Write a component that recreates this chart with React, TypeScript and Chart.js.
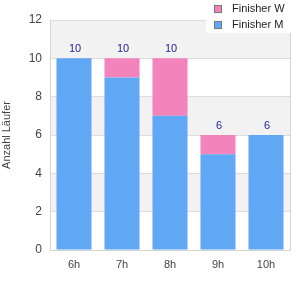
import React, { useEffect, useRef } from "react";
import { Chart, registerables } from "chart.js";

Chart.register(...registerables);

const categories = ["6h", "7h", "8h", "9h", "10h"];
const finisherM = [10, 9, 7, 5, 6];
const finisherW = [0, 1, 3, 1, 0];
const yTicks = [0, 2, 4, 6, 8, 10, 12];

const FONT = "'Liberation Sans', Arial, sans-serif";
const BLUE = "#60a8f4";
const PINK = "#f283bb";

const bandsPlugin = {
  id: "bands",
  beforeDraw(chart: any) {
    const { ctx, chartArea } = chart;
    const y = chart.scales.y;
    ctx.save();
    ctx.fillStyle = "#ffffff";
    ctx.fillRect(0, 0, chart.width, chart.height);
    ctx.fillStyle = "#f2f2f2";
    for (let i = yTicks.length - 1; i > 0; i -= 2) {
      const top = y.getPixelForValue(yTicks[i]);
      const bot = y.getPixelForValue(yTicks[i - 1]);
      ctx.fillRect(chartArea.left, top, chartArea.right - chartArea.left, bot - top);
    }
    ctx.restore();
  },
  afterDraw(chart: any) {
    const { ctx, chartArea } = chart;
    ctx.save();
    ctx.strokeStyle = "#d4d4d4";
    ctx.lineWidth = 1;
    ctx.beginPath();
    ctx.moveTo(Math.round(chartArea.right) + 0.5, chartArea.top);
    ctx.lineTo(Math.round(chartArea.right) + 0.5, chartArea.bottom);
    ctx.stroke();
    ctx.restore();
  },
};

const totalsPlugin = {
  id: "totals",
  afterDatasetsDraw(chart: any) {
    const { ctx } = chart;
    const x = chart.scales.x;
    const y = chart.scales.y;
    ctx.save();
    ctx.fillStyle = "#1e1e96";
    ctx.font = `11px ${FONT}`;
    ctx.textAlign = "center";
    ctx.textBaseline = "bottom";
    categories.forEach((_, i) => {
      const total = finisherM[i] + finisherW[i];
      const px = x.getPixelForValue(i);
      const py = y.getPixelForValue(total);
      ctx.fillText(String(total), px + 1, py - 4);
    });
    ctx.restore();
  },
};

const legendPlugin = {
  id: "customLegend",
  afterDraw(chart: any) {
    const { ctx } = chart;
    ctx.save();
    ctx.fillStyle = "#ffffff";
    ctx.fillRect(206, 0, 94, 33);
    const items = [
      { label: "Finisher W", color: PINK, y: 5 },
      { label: "Finisher M", color: BLUE, y: 21 },
    ];
    ctx.font = `11px ${FONT}`;
    ctx.textBaseline = "middle";
    ctx.textAlign = "left";
    items.forEach((it) => {
      ctx.fillStyle = it.color;
      ctx.fillRect(214, it.y, 8, 8);
      ctx.strokeStyle = "#777777";
      ctx.lineWidth = 1;
      ctx.strokeRect(214.5, it.y + 0.5, 7, 7);
      ctx.fillStyle = "#222222";
      ctx.fillText(it.label, 232, it.y + 4);
    });
    ctx.restore();
  },
};

export default function App() {
  const ref = useRef<HTMLCanvasElement>(null);
  useEffect(() => {
    if (!ref.current) return;
    const chart = new Chart(ref.current, {
      type: "bar",
      data: {
        labels: categories,
        datasets: [
          {
            label: "Finisher M",
            data: finisherM,
            backgroundColor: BLUE,
            borderWidth: 0,
            categoryPercentage: 1,
            barPercentage: 0.73,
          },
          {
            label: "Finisher W",
            data: finisherW,
            backgroundColor: PINK,
            borderWidth: 0,
            categoryPercentage: 1,
            barPercentage: 0.73,
          },
        ],
      },
      options: {
        animation: false,
        responsive: false,
        maintainAspectRatio: false,
        layout: { padding: { top: 20, right: 10, left: 0, bottom: 0 } },
        plugins: {
          legend: { display: false },
          tooltip: { enabled: false },
        },
        scales: {
          x: {
            stacked: true,
            grid: { display: false, drawTicks: false },
            border: { display: true, color: "#d4d4d4" },
            ticks: { color: "#444", font: { family: FONT, size: 11 }, padding: 8 },
            afterFit(scale: any) {
              scale.height = 50;
            },
          },
          y: {
            stacked: true,
            min: 0,
            max: 12,
            ticks: {
              stepSize: 2,
              color: "#444",
              font: { family: FONT, size: 12 },
              padding: 8,
            },
            grid: { color: "#dddddd", drawTicks: false },
            border: { display: true, color: "#d4d4d4" },
            title: {
              display: true,
              text: "Anzahl Läufer",
              color: "#444",
              font: { family: FONT, size: 11 },
              padding: { top: 0, bottom: 0 },
            },
            afterFit(scale: any) {
              scale.width = 50;
            },
          },
        },
      },
      plugins: [bandsPlugin, totalsPlugin, legendPlugin],
    });
    return () => chart.destroy();
  }, []);
  return (
    <div style={{ position: "fixed", left: 0, top: 0, width: 300, height: 300 }}>
      <canvas ref={ref} width={300} height={300} style={{ width: 300, height: 300 }} />
    </div>
  );
}
